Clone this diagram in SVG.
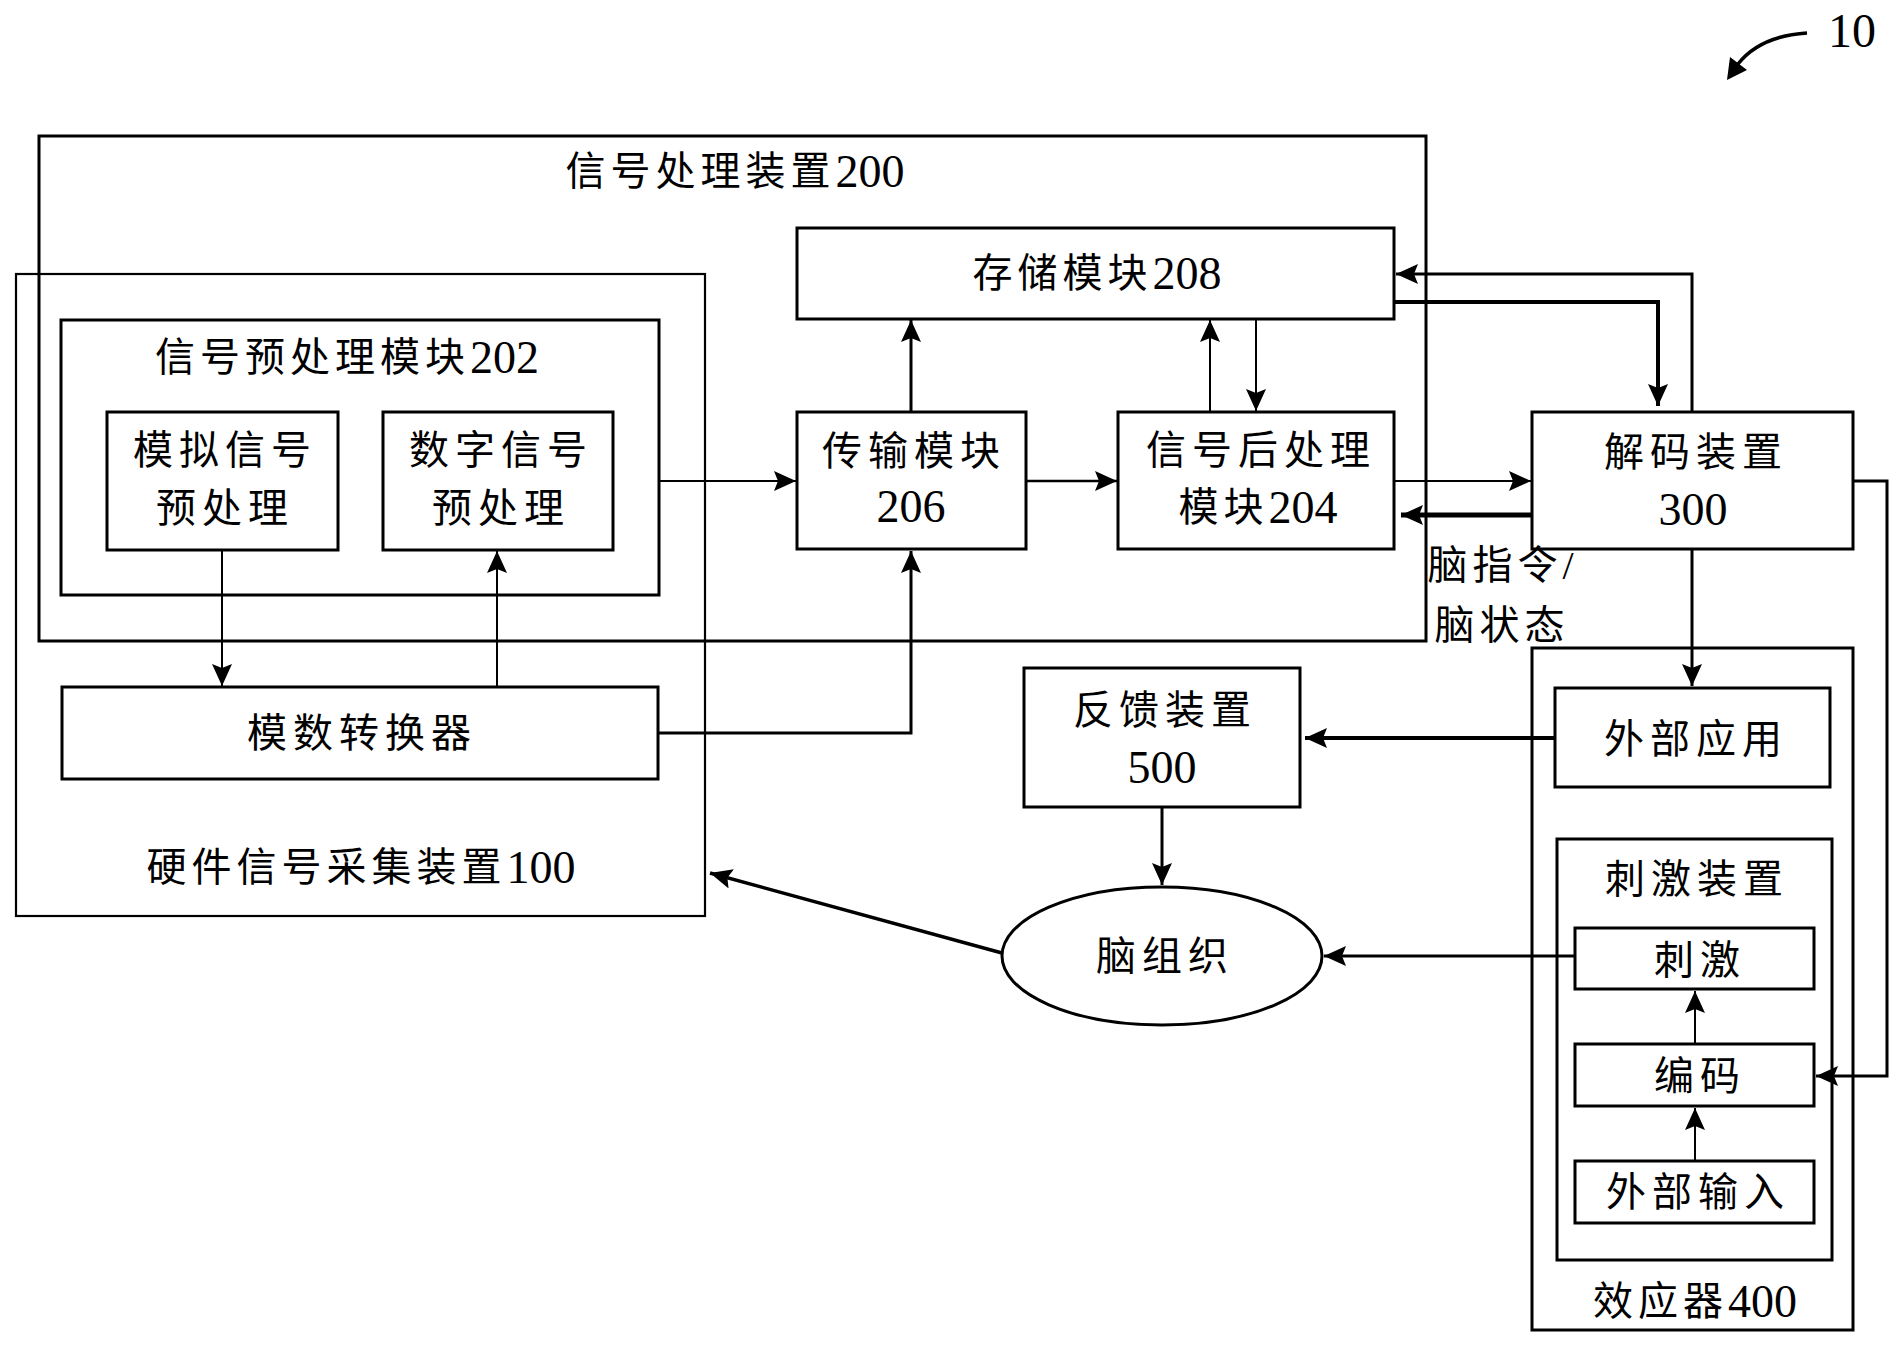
<svg xmlns="http://www.w3.org/2000/svg" width="1904" height="1347" viewBox="0 0 1904 1347">
<style>
.box{fill:none;stroke:#000;stroke-width:3}
.thin{stroke-width:2.2}
.t{font-family:"Liberation Serif","Noto Sans CJK SC",serif;font-size:40px;text-anchor:middle;dominant-baseline:central;fill:#000;letter-spacing:6px}
.m{letter-spacing:5px}
.d{font-size:46px;letter-spacing:0}
.c{fill:none;stroke:#000;stroke-width:2.5;marker-end:url(#ah)}
</style>
<defs>
<marker id="ah" markerUnits="userSpaceOnUse" markerWidth="24" markerHeight="22" refX="22" refY="10" orient="auto">
<path d="M0,0 L22,10 L0,20 L4,10 z" fill="#000"/>
</marker>
</defs>
<rect width="1904" height="1347" fill="#fff"/>

<g id="label10">
<path d="M1807,33 Q1760,36 1738,64" fill="none" stroke="#000" stroke-width="3.5"/>
<path d="M1727,80 L1730,57 L1747,70 z" fill="#000"/>
<text x="1852" y="30" class="t d" style="font-size:48px">10</text>
</g>

<g id="node-200">
<rect class="box" x="39" y="136" width="1387" height="505"/>
<text class="t m" x="735" y="171">信号处理装置<tspan class="d">200</tspan></text>
</g>

<g id="node-100">
<rect class="box thin" x="16" y="274" width="689" height="642"/>
<text class="t m" x="361" y="867">硬件信号采集装置<tspan class="d">100</tspan></text>
</g>

<g id="node-202">
<rect class="box" x="61" y="320" width="598" height="275"/>
<text class="t m" x="347" y="357">信号预处理模块<tspan class="d">202</tspan></text>
</g>

<g id="node-analog">
<rect class="box" x="107" y="412" width="231" height="138"/>
<text class="t" x="225" y="450">模拟信号</text>
<text class="t" x="225" y="508">预处理</text>
</g>

<g id="node-digital">
<rect class="box" x="383" y="412" width="230" height="138"/>
<text class="t" x="501" y="450">数字信号</text>
<text class="t" x="501" y="508">预处理</text>
</g>

<g id="node-adc">
<rect class="box" x="62" y="687" width="596" height="92"/>
<text class="t" x="362" y="733">模数转换器</text>
</g>

<g id="node-208">
<rect class="box" x="797" y="228" width="597" height="91"/>
<text class="t m" x="1097" y="273">存储模块<tspan class="d">208</tspan></text>
</g>

<g id="node-206">
<rect class="box" x="797" y="412" width="229" height="137"/>
<text class="t" x="914" y="451">传输模块</text>
<text class="t d" x="911" y="506">206</text>
</g>

<g id="node-204">
<rect class="box" x="1118" y="412" width="276" height="137"/>
<text class="t" x="1261" y="450">信号后处理</text>
<text class="t m" x="1258" y="507">模块<tspan class="d">204</tspan></text>
</g>

<g id="node-300">
<rect class="box" x="1532" y="412" width="321" height="137"/>
<text class="t" x="1696" y="452">解码装置</text>
<text class="t d" x="1693" y="509">300</text>
</g>

<g id="label-brain-cmd">
<text class="t m" x="1503" y="565">脑指令/</text>
<text class="t m" x="1502" y="625">脑状态</text>
</g>

<g id="node-500">
<rect class="box" x="1024" y="668" width="276" height="139"/>
<text class="t" x="1165" y="710">反馈装置</text>
<text class="t d" x="1162" y="767">500</text>
</g>

<g id="node-brain">
<ellipse cx="1162" cy="956" rx="160" ry="69" fill="none" stroke="#000" stroke-width="3"/>
<text class="t" x="1165" y="956">脑组织</text>
</g>

<g id="node-400">
<rect class="box" x="1532" y="648" width="321" height="682"/>
<text class="t m" x="1695" y="1301">效应器<tspan class="d">400</tspan></text>
</g>

<g id="node-app">
<rect class="box" x="1555" y="688" width="275" height="99"/>
<text class="t" x="1696" y="739">外部应用</text>
</g>

<g id="node-stim-dev">
<rect class="box" x="1557" y="839" width="275" height="421"/>
<text class="t" x="1697" y="879">刺激装置</text>
</g>

<g id="node-stim">
<rect class="box" x="1575" y="928" width="239" height="61"/>
<text class="t" x="1700" y="960">刺激</text>
</g>

<g id="node-encode">
<rect class="box" x="1575" y="1044" width="239" height="62"/>
<text class="t" x="1700" y="1076">编码</text>
</g>

<g id="node-input">
<rect class="box" x="1575" y="1161" width="239" height="62"/>
<text class="t" x="1698" y="1192">外部输入</text>
</g>

<g id="connectors">
<path class="c" style="stroke-width:2" d="M659,481 H796"/>
<path class="c" d="M1026,481 H1117"/>
<path class="c" style="stroke-width:3" d="M911,412 V320"/>
<path class="c" style="stroke-width:2" d="M1210,412 V320"/>
<path class="c" style="stroke-width:2" d="M1256,319 V411"/>
<path class="c" style="stroke-width:4" d="M1394,302 H1658 V406"/>
<path class="c" style="stroke-width:3" d="M1692,412 V274 H1396"/>
<path class="c" style="stroke-width:2" d="M1394,481 H1531"/>
<path class="c" style="stroke-width:5" d="M1532,515 H1401"/>
<path class="c" style="stroke-width:2" d="M222,550 V686"/>
<path class="c" style="stroke-width:2" d="M497,687 V551"/>
<path class="c" style="stroke-width:3" d="M658,733 H911 V551"/>
<path class="c" style="stroke-width:3" d="M1692,549 V686"/>
<path class="c" style="stroke-width:3" d="M1853,481 H1887 V1076 H1816"/>
<path class="c" style="stroke-width:4" d="M1555,738 H1305"/>
<path class="c" style="stroke-width:3" d="M1162,807 V885"/>
<path class="c" style="stroke-width:3" d="M1575,956 H1324"/>
<path class="c" style="stroke-width:2" d="M1695,1044 V991"/>
<path class="c" style="stroke-width:2" d="M1695,1161 V1108"/>
<path class="c" style="stroke-width:3.5" d="M1002,953 L710,873"/>
</g>
</svg>
